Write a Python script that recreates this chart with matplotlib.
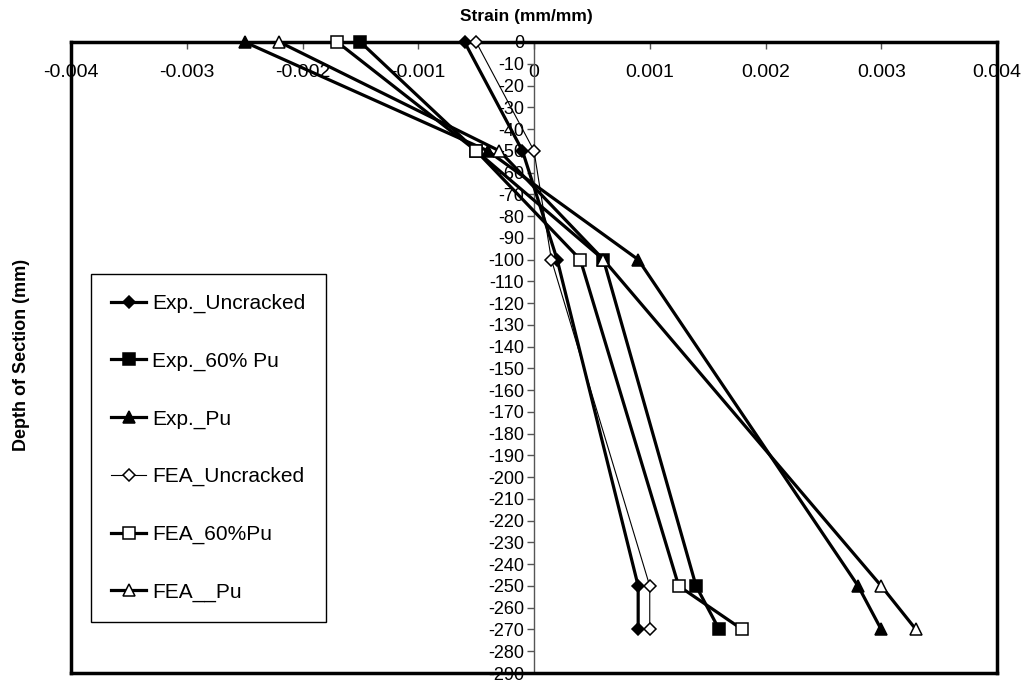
import matplotlib
matplotlib.use("Agg")
import matplotlib.pyplot as plt
from matplotlib.lines import Line2D
from matplotlib.ticker import FuncFormatter, MultipleLocator

plt.rcParams["font.family"] = ["Liberation Sans", "DejaVu Sans"]
plt.rcParams["axes.unicode_minus"] = False

# depth of each gauge row (mm)
depth = [0, -50, -100, -250, -270]

# strain readings (mm/mm) per series
exp_uncracked = [-0.0006, -0.0001, 0.0002, 0.0009, 0.0009]
exp_60pu = [-0.0015, -0.0005, 0.0006, 0.0014, 0.0016]
exp_pu = [-0.0025, -0.0004, 0.0009, 0.0028, 0.0030]
fea_uncracked = [-0.0005, 0.0, 0.00015, 0.0010, 0.0010]
fea_60pu = [-0.0017, -0.0005, 0.0004, 0.00125, 0.0018]
fea_pu = [-0.0022, -0.0003, 0.0006, 0.0030, 0.0033]

series = [
    ("Exp._Uncracked", exp_uncracked, "D", "black", 2.3, 6.5),
    ("Exp._60% Pu", exp_60pu, "s", "black", 2.3, 8),
    ("Exp._Pu", exp_pu, "^", "black", 2.3, 9),
    ("FEA_Uncracked", fea_uncracked, "D", "white", 0.8, 6.5),
    ("FEA_60%Pu", fea_60pu, "s", "white", 2.3, 8),
    ("FEA__Pu", fea_pu, "^", "white", 2.3, 9),
]

fig = plt.figure(figsize=(10.27, 6.81), dpi=100)
ax = fig.add_axes([71 / 1027, 1 - 673 / 681, (997 - 71) / 1027, (673 - 42) / 681])

for label, vals, mk, face, lw, ms in series:
    ax.plot(vals, depth, color="black", lw=lw, marker=mk, markersize=ms,
            markerfacecolor=face, markeredgecolor="black", markeredgewidth=1.1,
            label=label, clip_on=False, zorder=3)

ax.set_xlim(-0.004, 0.004)
ax.set_ylim(-290, 0)

# x axis sits on the top edge, labels hanging below it
ax.xaxis.set_major_locator(MultipleLocator(0.001))
ax.xaxis.set_major_formatter(FuncFormatter(lambda v, p: f"{v:g}" if abs(v) > 1e-12 else "0"))
ax.tick_params(axis="x", top=True, labeltop=True, bottom=False, labelbottom=False,
               direction="in", length=5, width=1, color="#555555", pad=-28, labelsize=14)

# y axis runs down the zero-strain line
ax.yaxis.set_major_locator(MultipleLocator(10))
ax.spines["left"].set_position(("data", 0))
ax.spines["left"].set_color("#555555")
ax.spines["left"].set_linewidth(1)
ax.tick_params(axis="y", direction="out", length=5, width=1, color="#555555",
               pad=2, labelsize=13)

for side in ["top", "right", "bottom"]:
    ax.spines[side].set_linewidth(2.5)
    ax.spines[side].set_color("black")
ax.add_line(Line2D([0, 0], [0, 1], transform=ax.transAxes, color="black",
                   lw=2.5, clip_on=False, zorder=2.6))

fig.text(526 / 1027, 1 - 17 / 681, "Strain (mm/mm)", ha="center", va="center",
         fontsize=12.5, fontweight="bold")
fig.text(22 / 1027, 1 - 355 / 681, "Depth of Section (mm)", ha="center", va="center",
         rotation=90, fontsize=13, fontweight="bold")

leg = ax.legend(loc="upper left", bbox_to_anchor=(91 / 1027, 1 - 274 / 681),
                bbox_transform=fig.transFigure, borderaxespad=0, fontsize=15,
                labelspacing=1.85, handlelength=1.7, handletextpad=0.3,
                borderpad=0.95, fancybox=False, framealpha=1)
leg.get_frame().set_edgecolor("black")
leg.get_frame().set_linewidth(1)
leg.get_frame().set_width(229)

fig.savefig("out.png", dpi=100)
